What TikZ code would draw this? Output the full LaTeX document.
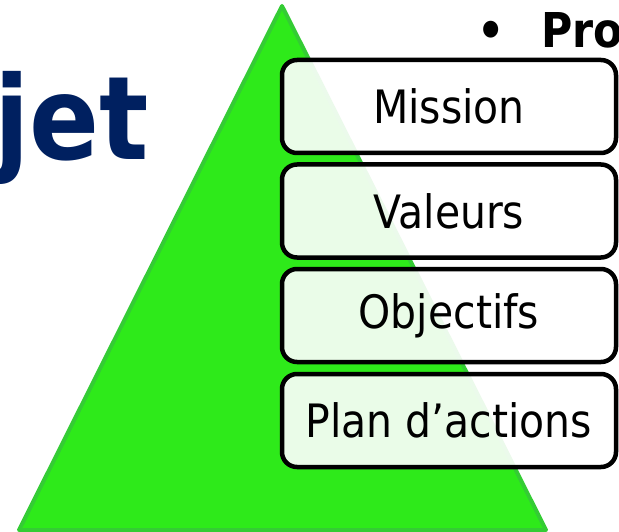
\documentclass[tikz,border=0pt]{standalone}
\usepackage{fontspec}
\setmainfont{DejaVu Sans}[FakeStretch=0.89]
\definecolor{pyrgreen}{RGB}{46,234,26}
\definecolor{pyredge}{RGB}{52,204,52}
\definecolor{titlenavy}{RGB}{0,32,96}
\tikzset{
  tierbox/.style={draw=black, line width=4.5pt, rounded corners=15pt,
    fill=white, fill opacity=0.9, text opacity=1,
    minimum width=334pt, minimum height=93pt, inner sep=0pt,
    font=\fontsize{46}{50}\selectfont},
  headline/.style={inner sep=0pt, font=\bfseries\fontsize{48}{52}\selectfont}
}
\begin{document}
\begin{tikzpicture}[x=1pt,y=-1pt]
  \useasboundingbox[fill=white] (0,0) rectangle (619,532);
  \clip (0,0) rectangle (619,532);
  \node[anchor=base east, inner sep=0pt, text=titlenavy,
    font=\bfseries\fontsize{116}{120}\selectfont] (projet) at (149,160) {Projet};
  \node[headline, anchor=base] (puce) at (491,48) {\textbullet};
  \node[headline, anchor=base west] (pro) at (541,48) {Pro};
  \filldraw[fill=pyrgreen, draw=pyredge, line width=4pt, line join=round]
    (282,6) -- (546,530) -- (19,530) -- cycle;
  \node[tierbox] (mission) at (449,106.5) {Mission};
  \node[tierbox] (valeurs) at (449,211) {Valeurs};
  \node[tierbox] (objectifs) at (449,315.5) {Objectifs};
  \node[tierbox] (plan) at (449,420.5) {Plan d’actions};
\end{tikzpicture}
\end{document}
